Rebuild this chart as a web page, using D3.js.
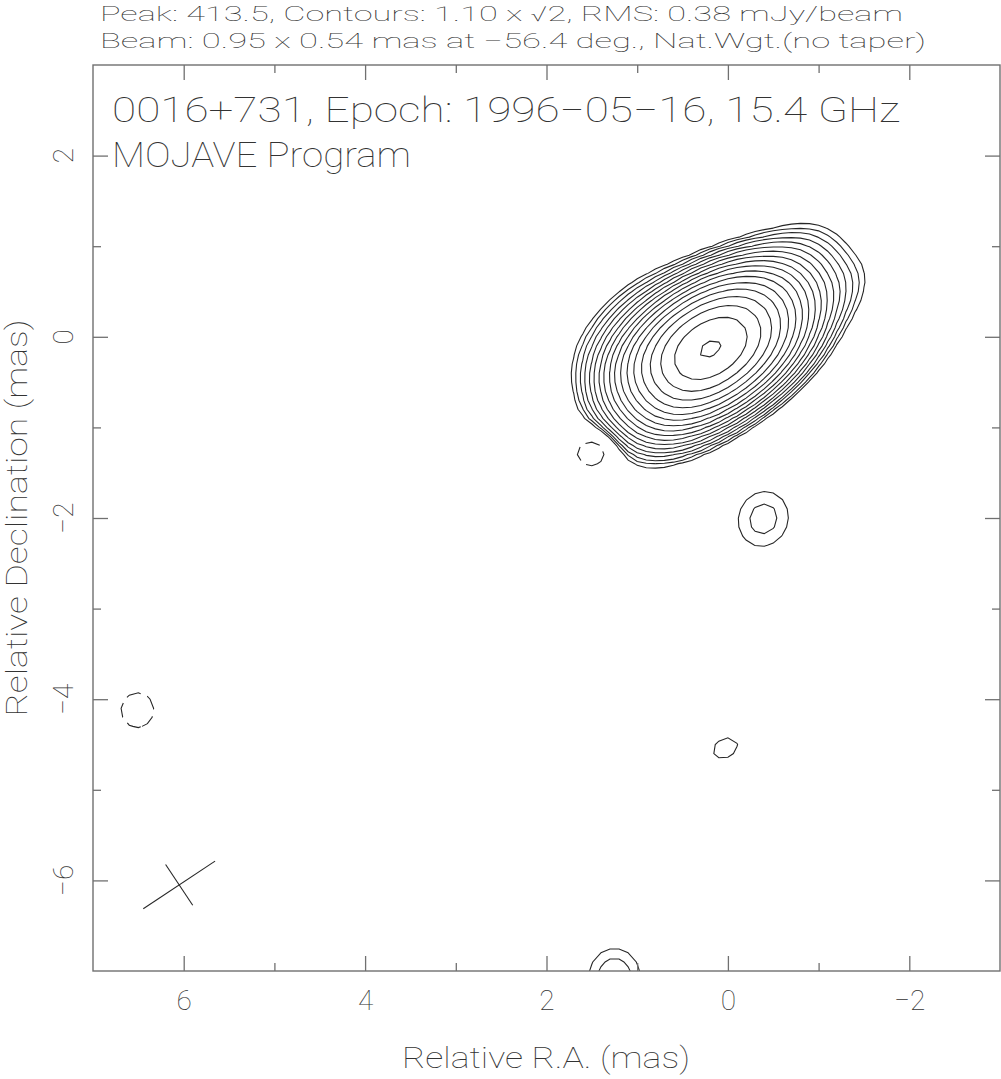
<!DOCTYPE html>
<html>
<head>
<meta charset="utf-8">
<title>0016+731 MOJAVE 15.4 GHz</title>
<script src="https://d3js.org/d3.v7.min.js"></script>
<style>
  body { margin: 0; background: #fff; }
  text { font-family: Roboto, "DejaVu Sans", sans-serif; font-weight: 100; fill: #333; }
  .tick line { stroke: #707070; stroke-width: 1.3; }
</style>
</head>
<body>
<svg id="chart" width="1001" height="1079"></svg>
<script>
// axis ranges, mas (R.A. runs right to left)
var raRange = [7, -3];
var decRange = [-7, 3];
var xMajor = [6, 4, 2, 0, -2];
var xMinor = [5, 3, 1, -1];
var yMajor = [-6, -4, -2, 0, 2];
var yMinor = [-5, -3, -1, 1];

// contour levels, mJy/beam (1.10 x sqrt2 steps)
var posLevels = [1.10, 1.556, 2.20, 3.111, 4.40, 6.223, 8.80, 12.45, 17.60, 24.89, 35.20, 49.78, 70.40, 99.56, 140.8, 199.1, 281.6, 398.3];
var negLevels = [1.10];

// restoring beam
var beamMaj = 0.95, beamMin = 0.54, beamPA = -56.4;
var beamPos = [6.05, -6.05];

// clean / model components: position (mas), peak (mJy/beam), size (mas), PA (deg)
var compX   = [0.36, 0.50, 0.64, 0.16, 0.30, 0.44, -0.04, 0.10, 0.24, -0.24, -0.10, 0.04, -0.34, -0.51, -0.60, -0.95, 0.88, 0.50, 1.20, -0.39, 0.03, 1.25, 1.42, 6.51];
var compY   = [-0.54, -0.33, -0.12, -0.40, -0.20, 0.01, -0.27, -0.06, 0.14, -0.14, 0.07, 0.28, 0.23, 0.52, 0.78, 0.40, 0.30, -0.92, -0.05, -2.01, -4.54, -7.05, -1.22, -4.12];
var compAmp = [48, 60, 46, 58, 72, 56, 58, 72, 56, 48, 60, 46, 12, 4, 2.5, 3, 2.5, 2.5, 1.5, 1.82, 1.30, 2.0, -2.2, -1.4];
var compMaj = [0.95, 0.95, 0.95, 0.95, 0.95, 0.95, 0.95, 0.95, 0.95, 0.95, 0.95, 0.95, 0.95, 0.95, 0.95, 0.95, 0.95, 0.95, 0.95, 0.72, 0.60, 0.64, 0.56, 0.66];
var compMin = [0.54, 0.54, 0.54, 0.54, 0.54, 0.54, 0.54, 0.54, 0.54, 0.54, 0.54, 0.54, 0.54, 0.54, 0.54, 0.54, 0.54, 0.54, 0.54, 0.64, 0.45, 0.60, 0.42, 0.62];
var compPA  = [-56.4, -56.4, -56.4, -56.4, -56.4, -56.4, -56.4, -56.4, -56.4, -56.4, -56.4, -56.4, -56.4, -56.4, -56.4, -56.4, -56.4, -56.4, -56.4, -20, -60, 0, -60, 0];

var svg = d3.select("#chart");
var x = d3.scaleLinear().domain(raRange).range([93, 1000]);
var y = d3.scaleLinear().domain(decRange).range([971, 65]);

svg.append("defs").append("clipPath").attr("id", "plotclip")
  .append("rect")
  .attr("x", x(raRange[0])).attr("y", y(decRange[1]))
  .attr("width", x(raRange[1]) - x(raRange[0]))
  .attr("height", y(decRange[0]) - y(decRange[1]));

// brightness grid, 0.1 mas cells
var step = 0.1, gx0 = 7.5, gy0 = 3.5, nx = 111, ny = 111;
var k = 4 * Math.LN2;
function brightness(px, py) {
  var s = 0;
  for (var c = 0; c < compX.length; c++) {
    var pa = compPA[c] * Math.PI / 180;
    var dx = px - compX[c], dy = py - compY[c];
    var u = dx * Math.sin(pa) + dy * Math.cos(pa);
    var v = dx * Math.cos(pa) - dy * Math.sin(pa);
    s += compAmp[c] * Math.exp(-k * (u * u / (compMaj[c] * compMaj[c]) + v * v / (compMin[c] * compMin[c])));
  }
  return s;
}
var grid = new Float64Array(nx * ny);
for (var j = 0; j < ny; j++) {
  for (var i = 0; i < nx; i++) {
    grid[j * nx + i] = brightness(gx0 - i * step, gy0 - j * step);
  }
}
var negGrid = grid.map(function (v) { return -v; });

// grid cell -> mas -> pixels
var proj = d3.geoTransform({
  point: function (px, py) {
    this.stream.point(x(gx0 - (px - 0.5) * step), y(gy0 - (py - 0.5) * step));
  }
});
var path = d3.geoPath(proj);

var cont = svg.append("g").attr("clip-path", "url(#plotclip)");
cont.selectAll(".pos")
  .data(d3.contours().size([nx, ny]).thresholds(posLevels)(grid))
  .join("path")
  .attr("class", "pos")
  .attr("d", path)
  .attr("fill", "none")
  .attr("stroke", "#262626")
  .attr("stroke-width", 1.1);
cont.selectAll(".neg")
  .data(d3.contours().size([nx, ny]).thresholds(negLevels)(negGrid))
  .join("path")
  .attr("class", "neg")
  .attr("d", path)
  .attr("fill", "none")
  .attr("stroke", "#262626")
  .attr("stroke-width", 1.1)
  .attr("stroke-dasharray", "15,7");

// beam cross
var pa = beamPA * Math.PI / 180;
var bx = beamPos[0], by = beamPos[1];
var beamLines = [
  [bx + beamMaj / 2 * Math.sin(pa), by + beamMaj / 2 * Math.cos(pa), bx - beamMaj / 2 * Math.sin(pa), by - beamMaj / 2 * Math.cos(pa)],
  [bx + beamMin / 2 * Math.cos(pa), by - beamMin / 2 * Math.sin(pa), bx - beamMin / 2 * Math.cos(pa), by + beamMin / 2 * Math.sin(pa)]
];
svg.selectAll(".beam").data(beamLines).join("line")
  .attr("x1", function (d) { return x(d[0]); })
  .attr("y1", function (d) { return y(d[1]); })
  .attr("x2", function (d) { return x(d[2]); })
  .attr("y2", function (d) { return y(d[3]); })
  .attr("stroke", "#262626").attr("stroke-width", 1.1);

// frame and ticks
function noDomain(g) { g.select(".domain").remove(); }
var axes = svg.append("g").attr("color", "#707070");
axes.append("g").attr("transform", "translate(0," + y(decRange[0]) + ")")
  .call(d3.axisBottom(x).tickValues(xMajor).tickSize(-15).tickPadding(19).tickFormat(d3.format("d"))).call(noDomain);
axes.append("g").attr("transform", "translate(0," + y(decRange[0]) + ")")
  .call(d3.axisBottom(x).tickValues(xMinor).tickSize(-8).tickFormat("")).call(noDomain);
axes.append("g").attr("transform", "translate(0," + y(decRange[1]) + ")")
  .call(d3.axisTop(x).tickValues(xMajor).tickSize(-15).tickFormat("")).call(noDomain);
axes.append("g").attr("transform", "translate(0," + y(decRange[1]) + ")")
  .call(d3.axisTop(x).tickValues(xMinor).tickSize(-8).tickFormat("")).call(noDomain);
axes.append("g").attr("transform", "translate(" + x(raRange[0]) + ",0)")
  .call(d3.axisLeft(y).tickValues(yMajor).tickSize(-15).tickFormat("")).call(noDomain);
axes.append("g").attr("transform", "translate(" + x(raRange[0]) + ",0)")
  .call(d3.axisLeft(y).tickValues(yMinor).tickSize(-8).tickFormat("")).call(noDomain);
axes.append("g").attr("transform", "translate(" + x(raRange[1]) + ",0)")
  .call(d3.axisRight(y).tickValues(yMajor).tickSize(-15).tickFormat("")).call(noDomain);
axes.append("g").attr("transform", "translate(" + x(raRange[1]) + ",0)")
  .call(d3.axisRight(y).tickValues(yMinor).tickSize(-8).tickFormat("")).call(noDomain);
axes.selectAll(".tick text").style("font-size", "28px").style("font-family", null).attr("fill", "#333");

svg.append("rect")
  .attr("x", x(raRange[0])).attr("y", y(decRange[1]))
  .attr("width", x(raRange[1]) - x(raRange[0]))
  .attr("height", y(decRange[0]) - y(decRange[1]))
  .attr("fill", "none").attr("stroke", "#707070").attr("stroke-width", 1.4);

// rotated y tick labels
svg.selectAll(".ylab").data(yMajor).join("text")
  .attr("class", "ylab")
  .attr("transform", function (d) { return "translate(73," + y(d) + ") rotate(-90)"; })
  .attr("text-anchor", "middle")
  .style("font-size", "28px")
  .text(d3.format("d"));

// titles and axis labels
svg.append("text").attr("x", 100).attr("y", 21).style("font-size", "21px")
  .attr("textLength", 803).attr("lengthAdjust", "spacingAndGlyphs")
  .text("Peak: 413.5, Contours: 1.10 x \u221A2, RMS: 0.38 mJy/beam");
svg.append("text").attr("x", 100).attr("y", 48).style("font-size", "21px")
  .attr("textLength", 826).attr("lengthAdjust", "spacingAndGlyphs")
  .text("Beam: 0.95 x 0.54 mas at \u221256.4 deg., Nat.Wgt.(no taper)");
svg.append("text").attr("x", 112).attr("y", 122).style("font-size", "35px")
  .attr("textLength", 788).attr("lengthAdjust", "spacingAndGlyphs")
  .text("0016+731, Epoch: 1996\u221205\u221216, 15.4 GHz");
svg.append("text").attr("x", 112).attr("y", 167).style("font-size", "35px")
  .attr("textLength", 299).attr("lengthAdjust", "spacingAndGlyphs")
  .text("MOJAVE Program");
svg.append("text").attr("x", 546).attr("y", 1068).attr("text-anchor", "middle").style("font-size", "29px")
  .attr("textLength", 288).attr("lengthAdjust", "spacingAndGlyphs")
  .text("Relative R.A. (mas)");
svg.append("text").attr("transform", "translate(27,518) rotate(-90)").attr("text-anchor", "middle").style("font-size", "29px")
  .attr("textLength", 397).attr("lengthAdjust", "spacingAndGlyphs")
  .text("Relative Declination (mas)");
</script>
</body>
</html>
